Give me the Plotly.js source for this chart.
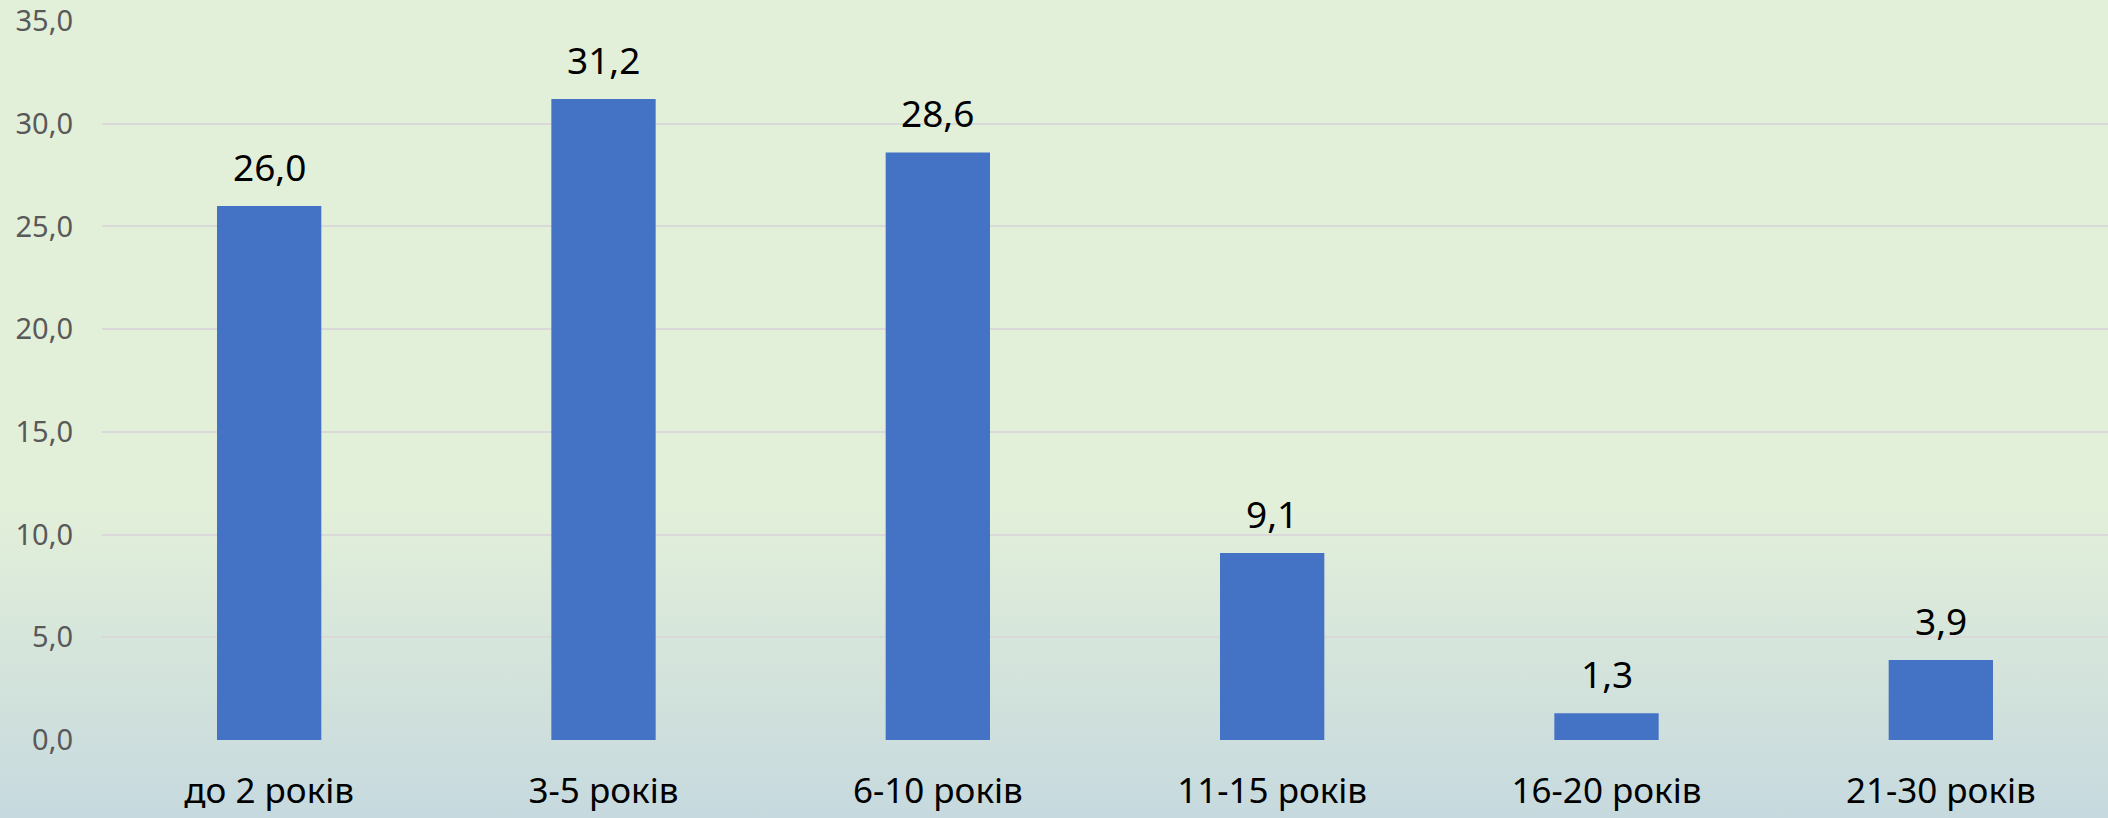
<!DOCTYPE html>
<html>
<head>
<meta charset="utf-8">
<script src="https://cdn.plot.ly/plotly-3.0.1.min.js"></script>
<style>
  html, body { margin: 0; padding: 0; }
  #chart {
    width: 2108px; height: 818px;
    background: linear-gradient(to bottom, #E2EFD9 0px, #E2EFD9 510px, #C6D9DE 818px);
  }
</style>
</head>
<body>
<div id="chart"></div>
<script>
const categories = ["до 2 років", "3-5 років", "6-10 років", "11-15 років", "16-20 років", "21-30 років"];
const values = [26.0, 31.2, 28.6, 9.1, 1.3, 3.9];
const valueLabels = ["26,0", "31,2", "28,6", "9,1", "1,3", "3,9"];

const trace = {
  type: "bar",
  x: categories,
  y: values,
  marker: { color: "#4472C4", line: { width: 0 } },
  hoverinfo: "skip"
};

const annotations = categories.map((c, i) => ({
  x: c, y: values[i], xref: "x", yref: "y",
  text: valueLabels[i], showarrow: false,
  yanchor: "bottom", yshift: 12,
  font: { family: "Noto Sans", size: 37, color: "#000000" }
}));

const layout = {
  width: 2108, height: 818,
  paper_bgcolor: "rgba(0,0,0,0)",
  plot_bgcolor: "rgba(0,0,0,0)",
  margin: { l: 102, r: 0, t: 21, b: 78 },
  bargap: 0.688,
  separators: ", ",
  showlegend: false,
  font: { family: "Noto Sans" },
  xaxis: {
    type: "category",
    showgrid: false, showline: false, zeroline: false,
    ticks: "",
    tickfont: { family: "Noto Sans", size: 35, color: "#000000" },
    ticklabelstandoff: 27
  },
  yaxis: {
    range: [0, 35], dtick: 5, tick0: 0,
    tickformat: ".1f",
    showgrid: true, gridcolor: "#D9D9D9", gridwidth: 2,
    zeroline: false, showline: false, ticks: "",
    tickfont: { family: "Noto Sans", size: 29, color: "#595959" },
    ticklabelstandoff: 28
  },
  annotations: annotations
};

Plotly.newPlot("chart", [trace], layout, { displayModeBar: false, staticPlot: true });
</script>
</body>
</html>
